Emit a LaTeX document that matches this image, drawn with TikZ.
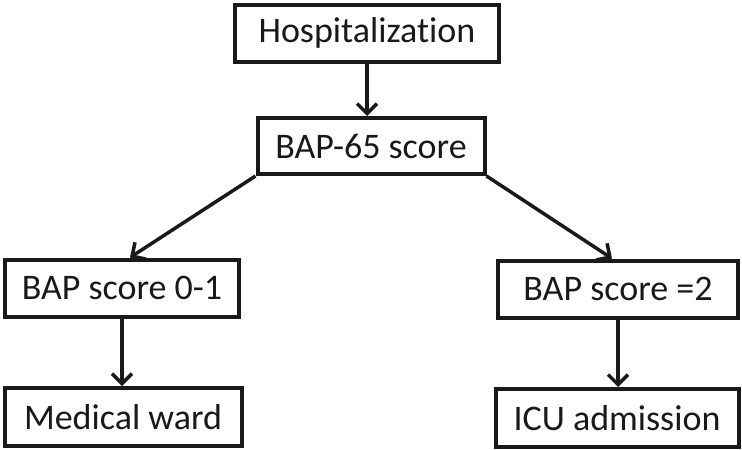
\documentclass[tikz,border=0pt]{standalone}
\usepackage{fontspec}
\setmainfont{Carlito}[Ligatures=NoCommon]
\usetikzlibrary{arrows.meta}
\begin{document}
\begin{tikzpicture}[x=1pt,y=-1pt,
  box/.style={draw=black!90, line width=4pt, inner sep=0pt, font=\fontsize{36}{40}\selectfont, text=black!90},
  conn/.style={draw=black!90, line width=3.5pt, -{Straight Barb[length=10pt,width=20pt,line width=3.5pt]}}]
\useasboundingbox (0,0) rectangle (742,450);
\node[box, minimum width=264pt, minimum height=57pt] (H) at (367,33) {Hospitalization};
\node[box, minimum width=227pt, minimum height=56pt] (B65) at (371,146) {BAP-65 score};
\node[box, minimum width=234pt, minimum height=57pt] (B01) at (122,288) {BAP score 0-1};
\node[box, minimum width=240pt, minimum height=57pt] (B2) at (618,289) {BAP score =2};
\node[box, minimum width=237pt, minimum height=58pt] (MW) at (123,417) {Medical ward};
\node[box, minimum width=243pt, minimum height=58pt] (ICU) at (617,418) {ICU admission};
\draw[conn] (H.south) -- (H.south |- B65.north);
\draw[conn] (B65.south west) -- ([xshift=8pt]B01.north);
\draw[conn] (B65.south east) -- ([xshift=-6pt]B2.north);
\draw[conn] (B01.south) -- (B01.south |- MW.north);
\draw[conn] (B2.south) -- (B2.south |- ICU.north);
\end{tikzpicture}
\end{document}
